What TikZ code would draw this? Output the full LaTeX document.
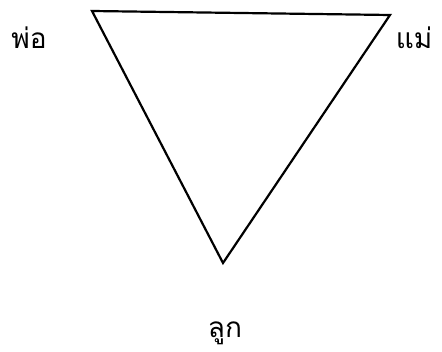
\documentclass[tikz,border=0pt]{standalone}
\usepackage{fontspec}
\newfontfamily\thaifont[Script=Thai]{Loma}
\begin{document}
\begin{tikzpicture}[x=1pt,y=1pt,
  lbl/.style={font=\thaifont\fontsize{28}{32}\selectfont, inner sep=0pt},
  edge/.style={line width=2.2pt, line join=miter}]
\useasboundingbox (0,0) rectangle (442,351);
\coordinate (f) at (92,340);
\coordinate (m) at (390,336);
\coordinate (c) at (223,88);
\draw[edge] (f) -- (m) -- (c) -- cycle;
\node[lbl] (pa) at (29,313) {พ่อ};
\node[lbl] (ma) at (414,313) {แม่};
\node[lbl] (ch) at (225,18) {ลูก};
\end{tikzpicture}
\end{document}
